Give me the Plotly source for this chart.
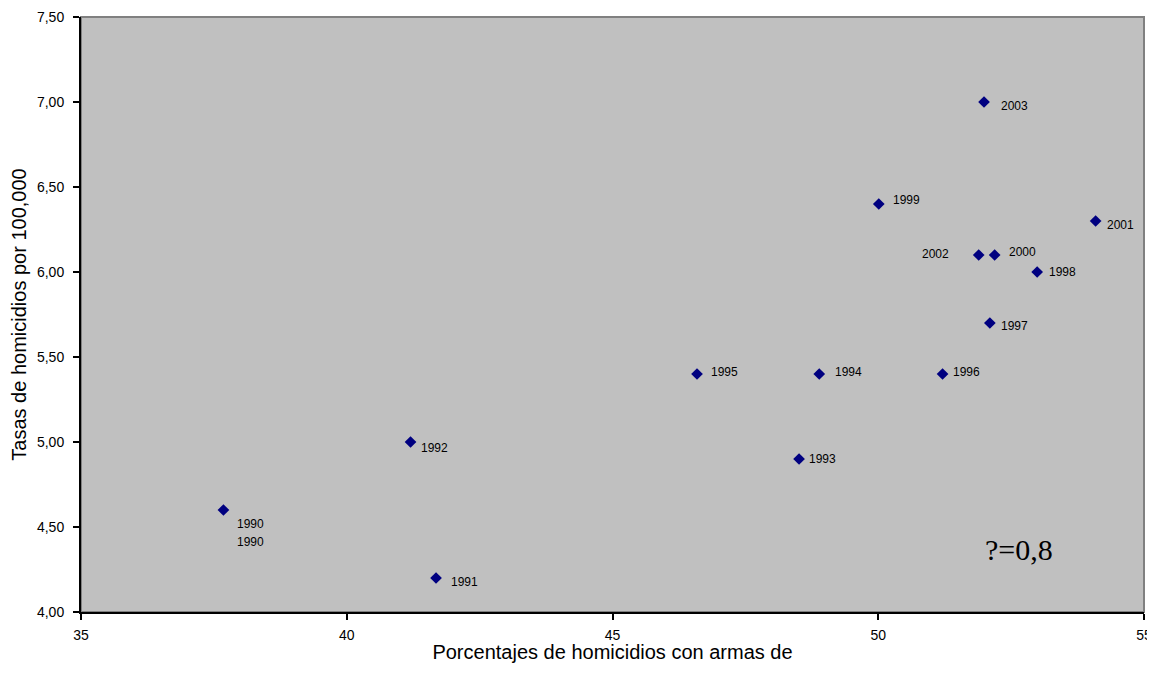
import plotly.graph_objects as go

years = ["1990", "1991", "1992", "1993", "1994", "1995", "1996", "1997",
         "1998", "1999", "2000", "2001", "2002", "2003"]
pct_armas = [37.68, 41.68, 41.20, 48.51, 48.89, 46.59, 51.21, 52.10,
             52.99, 50.01, 52.19, 54.09, 51.89, 51.99]
tasas = [4.60, 4.20, 5.00, 4.90, 5.40, 5.40, 5.40, 5.70,
         6.00, 6.40, 6.10, 6.30, 6.10, 7.00]

x_ticks = [35, 40, 45, 50, 55]
y_ticks = [4.00, 4.50, 5.00, 5.50, 6.00, 6.50, 7.00, 7.50]

# label pixel offsets (dx, dy) relative to each point; left-anchored unless noted
label_offsets = {
    "1990": (12, -14), "1991": (13, -4), "1992": (8, -6), "1993": (8, 0),
    "1994": (14, 2), "1995": (12, 2), "1996": (8, 2), "1997": (9, -3),
    "1998": (10, 0), "1999": (12, 4), "2000": (12, 3), "2001": (9, -4),
    "2002": (-28, 1), "2003": (15, -4),
}

fig = go.Figure()
fig.add_trace(go.Scatter(
    x=pct_armas, y=tasas, mode="markers",
    marker=dict(symbol="diamond", size=9, color="#000080",
                line=dict(width=0)),
    showlegend=False, hoverinfo="skip",
))

font_lbl = dict(family="Liberation Sans, Arial, sans-serif", size=12, color="black")
for yr, xv, yv in zip(years, pct_armas, tasas):
    dx, dy = label_offsets[yr]
    fig.add_annotation(x=xv, y=yv, text=yr, showarrow=False,
                       xanchor="right" if dx < 0 else "left", yanchor="middle",
                       xshift=dx, yshift=dy, font=font_lbl)
# duplicated 1990 label
fig.add_annotation(x=pct_armas[0], y=tasas[0], text=years[0], showarrow=False,
                   xanchor="left", yanchor="middle", xshift=12, yshift=-32,
                   font=font_lbl)

fig.add_annotation(xref="paper", yref="paper", x=0.8825, y=0.105,
                   text="?=0,8", showarrow=False, xanchor="center", yanchor="middle",
                   font=dict(family="Liberation Serif, Times New Roman, serif",
                             size=30, color="black"))

# grey frame of plot area
fig.add_shape(type="rect", xref="paper", yref="paper", x0=0, y0=0, x1=1, y1=1,
              line=dict(color="#808080", width=2), layer="below")

axis_font = dict(family="Liberation Sans, Arial, sans-serif", size=14, color="black")
title_font = dict(family="Liberation Sans, Arial, sans-serif", size=20, color="black")
# page body has an 8px margin: compensate so the plot area lands at 81..1144 x 17..612
fig.update_layout(
    width=1147, height=655,
    margin=dict(l=73, r=11, t=9, b=51, autoexpand=False),
    paper_bgcolor="white", plot_bgcolor="#C0C0C0",
    separators=",.",
    xaxis=dict(range=[35, 55], tickvals=x_ticks, showgrid=False, zeroline=False,
               automargin=False,
               showline=True, linecolor="black", linewidth=2,
               ticks="outside", ticklen=6, tickwidth=2, tickcolor="black",
               tickfont=axis_font, ticklabelstandoff=3,
               title=dict(text="Porcentajes de homicidios con armas de",
                          font=title_font, standoff=3)),
    yaxis=dict(range=[4, 7.5], tickvals=y_ticks, tickformat=".2f",
               showgrid=False, zeroline=False, automargin=False,
               showline=True, linecolor="black", linewidth=2,
               ticks="outside", ticklen=6, tickwidth=2, tickcolor="black",
               tickfont=axis_font, ticklabelstandoff=6,
               title=dict(text="Tasas de homicidios por 100,000",
                          font=title_font, standoff=5)),
)

fig.write_html("out.html")
